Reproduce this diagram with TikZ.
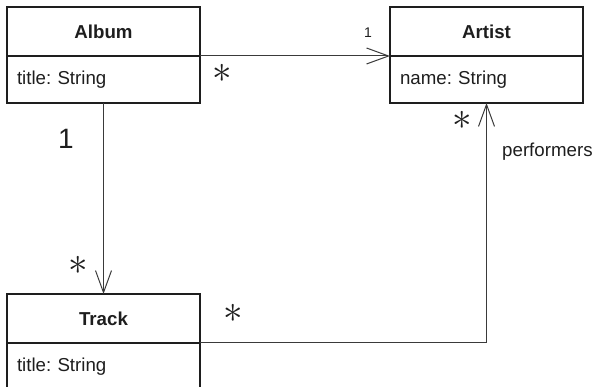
\documentclass[tikz,border=0pt]{standalone}
\usepackage{graphicx}
\usepackage{fontspec}
\setmainfont{Liberation Sans}
\frenchspacing
\usepackage{tikz}
\usetikzlibrary{arrows.meta,positioning}
\definecolor{Ink}{HTML}{1E1E1E}
\definecolor{Line}{HTML}{3A3A3A}
\newcommand{\many}{\scalebox{3.9}{$\ast$}}
\tikzset{
  classhead/.style={draw=Ink,line width=1.6pt,outer sep=0pt,minimum width=193pt,minimum height=49pt,inner sep=0pt,font=\fontsize{18.7}{22}\selectfont\bfseries,text=Ink},
  classattr/.style={draw=Ink,line width=1.6pt,outer sep=0pt,minimum width=193pt,minimum height=47pt,inner xsep=10pt,inner ysep=0pt,text width=173pt,align=left,font=\fontsize{18.7}{22}\selectfont,text=Ink},
  assoc/.style={-{Straight Barb[length=22pt,width=16pt]},line width=1pt,draw=Line},
  mult/.style={inner sep=0pt,text=Ink},
  multnum/.style={inner sep=0pt,text=Ink},
  rolelbl/.style={inner sep=0pt,font=\fontsize{18.7}{22}\selectfont,text=Ink}
}
\begin{document}
\begin{tikzpicture}[x=1pt,y=1pt]
  \useasboundingbox (0,0) rectangle (596,387);
  \node[classhead] (album) at (103.5,355.5) {Album};
  \node[classattr,below=0pt of album] (albumattr) {title: String};
  \node[classhead] (artist) at (486.5,355.5) {Artist};
  \node[classattr,below=0pt of artist] (artistattr) {name: String};
  \node[classhead] (track) at (103.5,68.5) {Track};
  \node[classattr,below=0pt of track] (trackattr) {title: String};
  \draw[assoc] (album.south east) -- (artist.south west);
  \draw[assoc] (albumattr.south) -- (track.north);
  \draw[assoc] (track.south east) -| (artistattr.south);
  \node[multnum,font=\fontsize{14}{16}\selectfont] (artistone) at (368,354) {1};
  \node[mult] (albumstar) at (222,314) {\many};
  \node[multnum,font=\fontsize{28}{30}\selectfont] (albumone) at (66,248) {1};
  \node[mult] (trackstar) at (78,122) {\many};
  \node[mult] (trackstartwo) at (233,74) {\many};
  \node[mult] (artiststar) at (462,267) {\many};
  \node[rolelbl,anchor=west] (performers) at (502,235) {performers};
\end{tikzpicture}
\end{document}
